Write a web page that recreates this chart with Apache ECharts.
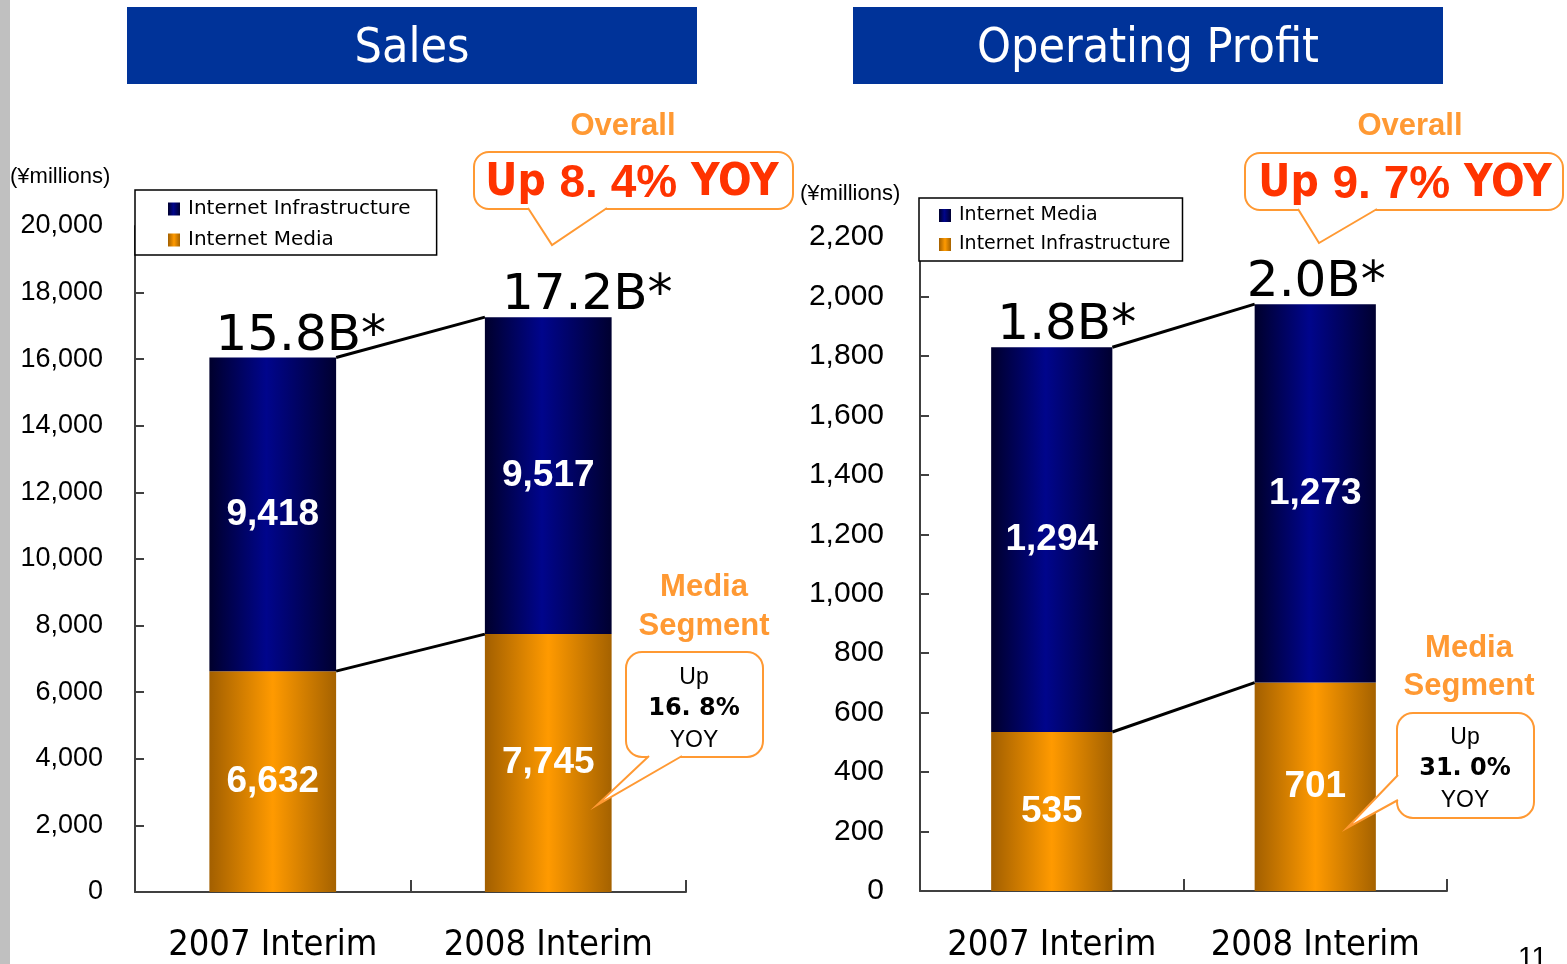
<!DOCTYPE html>
<html>
<head>
<meta charset="utf-8">
<script src="https://cdn.jsdelivr.net/npm/echarts@6/dist/echarts.min.js"></script>
<style>
  html, body { margin: 0; padding: 0; background: #fff; }
  #chart { width: 1567px; height: 964px; }
</style>
</head>
<body>
<div id="chart"></div>
<script>
const categories = ['2007 Interim', '2008 Interim']

// Sales (¥millions)
const salesInfra = [9418, 9517]
const salesMedia = [6632, 7745]
const salesTotalLabels = ['15.8B*', '17.2B*']

// Operating profit (¥millions) - legend on this side names navy "Internet Media"
const profitNavy = [1294, 1273]
const profitOrange = [535, 701]
const profitTotalLabels = ['1.8B*', '2.0B*']

const salesAxis = { min: 0, max: 20000, interval: 2000 }
const profitAxis = { min: 0, max: 2200, interval: 200 }

const BAR_RATIO = 0.46

const navyGrad = new echarts.graphic.LinearGradient(0, 0, 1, 0, [
  { offset: 0, color: '#00002c' },
  { offset: 0.45, color: '#00058c' },
  { offset: 1, color: '#000030' }
])
const orangeGrad = new echarts.graphic.LinearGradient(0, 0, 1, 0, [
  { offset: 0, color: '#a25f00' },
  { offset: 0.5, color: '#ff9a00' },
  { offset: 1, color: '#a56200' }
])

const NARROW = '"Liberation Sans Narrow", "DejaVu Sans Condensed", "Arial Narrow", sans-serif'
const ARIAL = '"Liberation Sans", Arial, sans-serif'

const fmt = v => Number(v).toLocaleString('en-US')

function sum(a, b) {
  return a.map((v, i) => v + b[i])
}

const salesTotals = sum(salesMedia, salesInfra)
const profitTotals = sum(profitOrange, profitNavy)

function barSeries(name, data, color, axisIdx) {
  return {
    name,
    type: 'bar',
    stack: 'stack' + axisIdx,
    xAxisIndex: axisIdx,
    yAxisIndex: axisIdx,
    barWidth: (BAR_RATIO * 100) + '%',
    data,
    itemStyle: { color },
    label: {
      show: true,
      position: 'inside',
      color: '#fff',
      fontSize: 37,
      fontWeight: 'bold',
      fontFamily: ARIAL,
      formatter: p => fmt(p.value)
    },
    emphasis: { disabled: true }
  }
}

function totalSeries(totals, labels, shifts, axisIdx) {
  return {
    type: 'scatter',
    xAxisIndex: axisIdx,
    yAxisIndex: axisIdx,
    symbolSize: 0,
    silent: true,
    z: 5,
    data: totals.map((t, i) => ({
      value: [i, t],
      label: { offset: shifts[i] }
    })),
    label: {
      show: true,
      position: 'top',
      distance: 0,
      color: '#000',
      opacity: 1,
      fontSize: 50,
      fontFamily: 'DejaVu Sans, sans-serif',
      formatter: p => labels[p.dataIndex]
    },
    itemStyle: { color: '#000', opacity: 1 }
  }
}

// connector lines between stacked boundaries of the two bars
function connectorSeries(lower, totals, axisIdx) {
  return {
    type: 'custom',
    xAxisIndex: axisIdx,
    yAxisIndex: axisIdx,
    silent: true,
    z: 4,
    data: [
      [0, lower[0], 1, lower[1]],
      [0, totals[0], 1, totals[1]]
    ],
    encode: { x: [0, 2], y: [1, 3] },
    renderItem(params, api) {
      const p0 = api.coord([api.value(0), api.value(1)])
      const p1 = api.coord([api.value(2), api.value(3)])
      const half = api.size([1, 0])[0] * BAR_RATIO / 2
      return {
        type: 'line',
        shape: { x1: p0[0] + half, y1: p0[1], x2: p1[0] - half, y2: p1[1] },
        style: { stroke: '#000', lineWidth: 3 }
      }
    }
  }
}

function xAxisCfg(gridIndex, margin) {
  return {
    type: 'category',
    gridIndex,
    data: categories,
    axisLine: { lineStyle: { color: '#404040', width: 2 } },
    axisTick: { show: true, inside: true, interval: 0, length: 12, lineStyle: { color: '#404040', width: 2 } },
    axisLabel: {
      interval: 0,
      margin,
      color: '#000',
      fontSize: 36,
      fontFamily: NARROW
    }
  }
}

function yAxisCfg(gridIndex, ax, margin, fontSize) {
  return {
    type: 'value',
    gridIndex,
    min: ax.min,
    max: ax.max,
    interval: ax.interval,
    splitLine: { show: false },
    axisLine: { show: true, lineStyle: { color: '#404040', width: 2 } },
    axisTick: { show: true, inside: true, length: 9, lineStyle: { color: '#404040', width: 2 } },
    axisLabel: {
      margin,
      color: '#000',
      fontSize,
      fontFamily: ARIAL,
      formatter: v => fmt(v)
    }
  }
}

function legendCfg(left, top, items, padding, fontSize, itemGap) {
  return {
    orient: 'vertical',
    left,
    top,
    padding,
    itemGap,
    itemWidth: 12,
    itemHeight: 13,
    borderColor: '#000',
    borderWidth: 1.5,
    backgroundColor: '#fff',
    selectedMode: false,
    icon: 'rect',
    data: items,
    textStyle: {
      color: '#000',
      fontSize,
      lineHeight: fontSize,
      fontFamily: 'DejaVu Sans, sans-serif',
      padding: [0, 0, 0, 3]
    }
  }
}

const orangeTxt = '#ff9933'
const bubbleStroke = '#ff9933'

function txt(x, y, text, font, fill, align) {
  return {
    type: 'text',
    x, y,
    silent: true,
    z: 10,
    style: { text, font, fill, align: align || 'center', verticalAlign: 'middle' }
  }
}

// rounded box + tail; the tail polygon hides the box border along its base
function bubble(box, tail) {
  return [
    {
      type: 'rect', silent: true, z: 8,
      shape: { x: box[0], y: box[1], width: box[2], height: box[3], r: box[4] },
      style: { fill: '#fff', stroke: bubbleStroke, lineWidth: 2 }
    },
    {
      type: 'polygon', silent: true, z: 9,
      shape: { points: tail },
      style: { fill: '#fff' }
    },
    {
      type: 'polyline', silent: true, z: 9,
      shape: { points: tail },
      style: { stroke: bubbleStroke, lineWidth: 2, fill: null }
    }
  ]
}

function upText(x, y, pct) {
  return {
    type: 'text',
    x, y,
    silent: true,
    z: 10,
    style: {
      text: '{n|Up }{b|' + pct + '}{n| YOY}',
      align: 'center',
      verticalAlign: 'middle',
      rich: {
        n: { fontSize: 44, fontWeight: 'bold', fontFamily: NARROW, fill: '#ff3300' },
        b: { fontSize: 46, fontWeight: 'bold', fontFamily: ARIAL, fill: '#ff3300' }
      }
    }
  }
}

const graphics = [
  { type: 'rect', silent: true, shape: { x: 0, y: 0, width: 10, height: 964 }, style: { fill: '#c0c0c0' } },
  { type: 'rect', silent: true, shape: { x: 127, y: 7, width: 570, height: 77 }, style: { fill: '#003399' } },
  { type: 'rect', silent: true, shape: { x: 853, y: 7, width: 590, height: 77 }, style: { fill: '#003399' } },
  txt(412, 50, 'Sales', '48px ' + NARROW, '#fff'),
  txt(1148, 50, 'Operating Profit', '48px ' + NARROW, '#fff'),
  txt(10, 177, '(¥millions)', '22px ' + ARIAL, '#000', 'left'),
  txt(800, 194, '(¥millions)', '22px ' + ARIAL, '#000', 'left'),

  // Overall bubbles
  txt(623, 126, 'Overall', 'bold 31px ' + ARIAL, orangeTxt),
  ...bubble([474, 152, 319, 57, 15], [[607, 208], [552, 245], [528, 208]]),
  upText(632, 184, '8. 4%'),
  txt(1410, 126, 'Overall', 'bold 31px ' + ARIAL, orangeTxt),
  ...bubble([1245, 153, 318, 57, 15], [[1377, 209], [1319, 243], [1298, 209]]),
  upText(1405, 185, '9. 7%'),

  // Media segment bubbles
  txt(704, 587, 'Media', 'bold 31px ' + ARIAL, orangeTxt),
  txt(704, 626, 'Segment', 'bold 31px ' + ARIAL, orangeTxt),
  ...bubble([626, 652, 137, 105, 16], [[682, 756], [597, 805], [649, 756]]),
  txt(694, 678, 'Up', '23px ' + ARIAL, '#000'),
  txt(694, 709, '16. 8%', 'bold 24px "DejaVu Sans", sans-serif', '#000'),
  txt(694, 741, 'YOY', '23px ' + ARIAL, '#000'),

  txt(1469, 648, 'Media', 'bold 31px ' + ARIAL, orangeTxt),
  txt(1469, 686, 'Segment', 'bold 31px ' + ARIAL, orangeTxt),
  ...bubble([1397, 713, 137, 105, 16], [[1398, 775], [1347, 828], [1398, 800]]),
  txt(1465, 738, 'Up', '23px ' + ARIAL, '#000'),
  txt(1465, 769, '31. 0%', 'bold 24px "DejaVu Sans", sans-serif', '#000'),
  txt(1465, 801, 'YOY', '23px ' + ARIAL, '#000'),

  // page number, cut off at bottom edge
  { type: 'text', x: 1518, y: 944, silent: true, style: { text: '11', font: '28px ' + ARIAL, fill: '#000' } }
]

const chart = echarts.init(document.getElementById('chart'))

chart.setOption({
  animation: false,
  backgroundColor: '#fff',
  grid: [
    { left: 135, top: 226, width: 551, height: 667 },
    { left: 920, top: 237, width: 527, height: 660 }
  ],
  legend: [
    legendCfg(135, 190, [
      { name: 'Internet Infrastructure', itemStyle: { color: navyGrad } },
      { name: 'Internet Media', itemStyle: { color: orangeGrad } }
    ], [9, 26, 5, 33], 20, 11),
    legendCfg(919, 198, [
      { name: 'Internet Media', itemStyle: { color: navyGrad } },
      { name: 'Internet Infrastructure', itemStyle: { color: orangeGrad } }
    ], [8, 12, 7, 20], 19, 10)
  ],
  xAxis: [xAxisCfg(0, 36), xAxisCfg(1, 37)],
  yAxis: [
    yAxisCfg(0, salesAxis, 32, 27),
    yAxisCfg(1, profitAxis, 36, 30)
  ],
  series: [
    barSeries('Internet Media', salesMedia, orangeGrad, 0),
    barSeries('Internet Infrastructure', salesInfra, navyGrad, 0),
    connectorSeries(salesMedia, salesTotals, 0),
    totalSeries(salesTotals, salesTotalLabels, [[28, 4], [39, 4]], 0),

    barSeries('Internet Infrastructure', profitOrange, orangeGrad, 1),
    barSeries('Internet Media', profitNavy, navyGrad, 1),
    connectorSeries(profitOrange, profitTotals, 1),
    totalSeries(profitTotals, profitTotalLabels, [[15, 4], [1, 4]], 1)
  ],
  graphic: graphics
})
</script>
</body>
</html>
